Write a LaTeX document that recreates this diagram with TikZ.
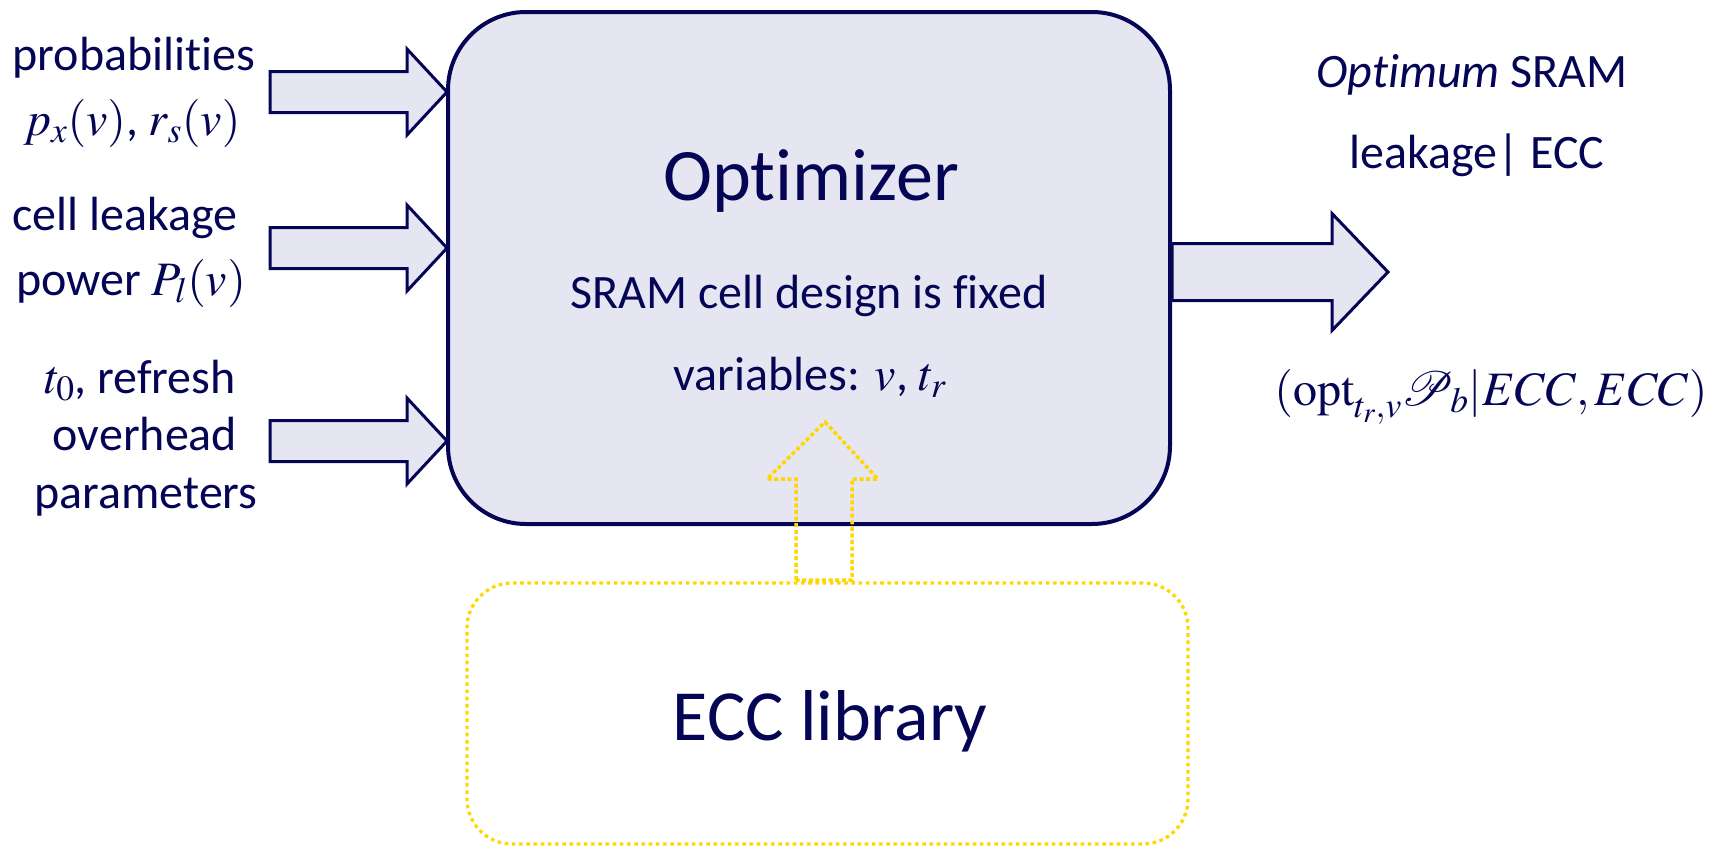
\documentclass[tikz,border=0pt]{standalone}
\usepackage{mathptmx}
\usepackage[no-math]{fontspec}
\setmainfont{Carlito}[Ligatures=NoCommon]
\DeclareFontFamily{U}{rsfs}{\skewchar\font127 }
\DeclareFontShape{U}{rsfs}{m}{n}{<-> rsfs10}{}
\usepackage{mathrsfs}
\definecolor{navy}{RGB}{5,5,85}
\definecolor{boxfill}{RGB}{230,230,242}
\definecolor{gold}{RGB}{255,215,0}
\tikzset{
  blk/.style={draw=navy, fill=boxfill, line width=3pt, line join=miter},
  ydot/.style={draw=gold, line width=3.5pt, dash pattern=on 4pt off 2.6pt},
  ybox/.style={draw=gold, line width=3.3pt, dash pattern=on 3.6pt off 3.6pt},
  txt/.style={text=navy, anchor=base, inner sep=0pt, font=\fontsize{48}{58}\selectfont},
  bigtxt/.style={txt, font=\fontsize{74}{88}\selectfont},
}
\begin{document}
\begin{tikzpicture}[x=1pt,y=-1pt]
\useasboundingbox (0,0) rectangle (1717,846);
% main optimizer box
\node[draw=navy, fill=boxfill, line width=4pt, rounded corners=78pt,
      minimum width=722pt, minimum height=512pt, inner sep=0pt] (opt) at (809,268) {};
% ECC library box
\node[ybox, rounded corners=45pt, minimum width=721pt, minimum height=261pt,
      inner sep=0pt] (ecc) at (827.5,713.5) {};

% box texts
\node[bigtxt] (ttl) at (811,200) {Optimizer};
\node[txt] (fix) at (809,308) {SRAM cell design is fixed};
\node[txt] (var) at (810,390) {variables: $v$, $t_r$};
\node[bigtxt, font=\fontsize{72}{86}\selectfont] (lib) at (830,740) {ECC library};

% left labels
\node[txt] (l1) at (134,70) {probabilities};
\node[txt] (l2) at (132,135) {$p_x(v)$, $r_s(v)$};
\node[txt] (l3) at (125,230) {cell leakage};
\node[txt] (l4) at (131,295) {power $P_l(v)$};
\node[txt] (l5) at (140,393) {$t_0$, refresh};
\node[txt] (l6) at (145,450) {overhead};
\node[txt] (l7) at (146,508) {parameters};

% right labels
\node[txt] (r1) at (1472,87) {\textit{Optimum} SRAM};
\node[txt] (r2) at (1477,168) {leakage| ECC};
\node[txt] (r3) at (1491,405) {$(\mathrm{opt}_{t_r,v}\mathscr{P}_b|ECC,ECC)$};

% input block arrows
\coordinate (t1) at (447,92);
\coordinate (t2) at (447,248);
\coordinate (t3) at (447,441);
\foreach \t in {t1,t2,t3}{
  \draw[blk] (\t) -- ++(-40,-43) -- ++(0,22.5) -- ++(-137,0) -- ++(0,41)
    -- ++(137,0) -- ++(0,22.5) -- cycle;
}
% output block arrow
\coordinate (o0) at (1172,271.5);
\draw[blk] (o0) ++(0,-28) -- ++(160,0) -- ++(0,-30) -- ++(56,58.5)
  -- ++(-56,58.5) -- ++(0,-30) -- ++(-160,0) -- cycle;
% yellow dotted up arrow from ECC library to optimizer
\coordinate (y0) at (824,580);
\draw[ydot] (y0) ++(-28,0) -- ++(0,-101) -- ++(-29,0) -- ++(58,-57)
  -- ++(53,57) -- ++(-26,0) -- ++(0,101) -- cycle;
\end{tikzpicture}
\end{document}
